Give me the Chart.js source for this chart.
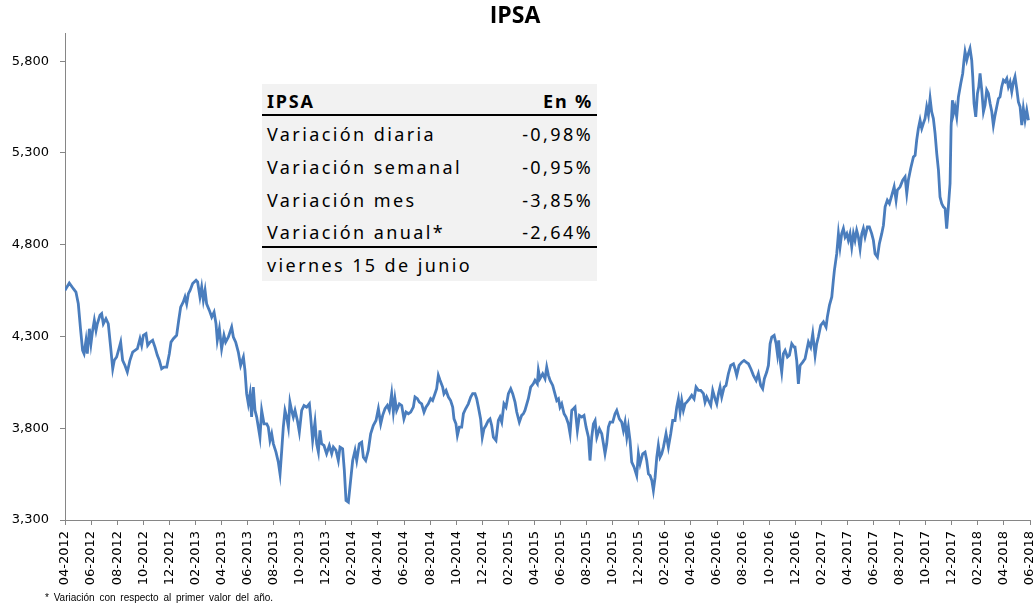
<!DOCTYPE html>
<html>
<head>
<meta charset="utf-8">
<script src="https://cdn.jsdelivr.net/npm/chart.js@4.4.1/dist/chart.umd.min.js"></script>
<style>
html,body{margin:0;padding:0;background:#fff;}
#wrap{position:relative;width:1035px;height:608px;overflow:hidden;background:#fff;}
#c{position:absolute;left:0;top:0;}
#tbl{position:absolute;left:262px;top:84px;width:335px;height:197px;background:#f2f2f2;font-family:'Noto Sans',sans-serif;font-size:18px;color:#000;}
.row{position:absolute;left:5px;right:4px;height:20px;line-height:20px;white-space:nowrap;}
.row span{position:absolute;top:0;letter-spacing:2.4px;}
.row .l{left:0;}
.row .r{right:0;}
.hdr span{font-weight:bold;letter-spacing:1.8px;}
.rule{position:absolute;left:0;right:0;height:2px;background:#000;}
#note{position:absolute;left:45px;top:592px;height:12px;line-height:12px;font-family:'Liberation Sans',Arial,sans-serif;font-size:10px;color:#000;word-spacing:2px;white-space:nowrap;}
</style>
</head>
<body>
<div id="wrap">
<canvas id="c" width="1035" height="608"></canvas>
<div id="tbl"></div>
<div id="note"></div>
</div>
<script>
// ---- Data ----
// position of each sample in months since April 2012
const monthPos = [
0.00,0.33,0.64,0.84,1.02,1.20,1.35,1.46,1.61,1.71,1.87,1.99,2.12,2.25,2.38,2.48,2.68,2.81,2.94,3.14,
3.32,3.50,3.66,3.78,3.96,4.17,4.27,4.42,4.60,4.78,4.98,5.19,5.37,5.55,5.75,5.88,6.01,6.21,6.34,6.52,
6.72,6.90,7.08,7.23,7.41,7.59,7.80,8.00,8.13,8.31,8.56,8.72,8.87,9.07,9.20,9.33,9.46,9.59,9.79,10.05,
10.17,10.35,10.48,10.61,10.74,10.86,11.07,11.25,11.43,11.58,11.68,11.84,12.01,12.19,12.32,12.53,12.78,12.91,13.09,13.29,
13.47,13.68,13.80,13.93,14.06,14.19,14.31,14.44,14.57,14.70,14.95,15.08,15.26,15.47,15.59,15.72,15.85,15.98,16.18,16.36,
16.49,16.62,16.74,16.87,17.00,17.13,17.25,17.38,17.51,17.64,17.82,17.97,18.15,18.33,18.53,18.74,
18.84,18.99,19.17,19.30,19.43,19.55,19.68,19.86,20.06,20.27,20.45,20.58,20.78,20.96,21.09,21.29,21.42,21.55,21.73,21.85,
22.06,22.24,22.37,22.57,22.75,22.88,23.06,23.26,23.44,23.64,23.85,24.03,24.21,24.36,24.54,24.72,24.87,25.05,25.18,25.30,
25.43,25.64,25.82,25.99,26.15,26.33,26.51,26.71,26.84,27.02,27.17,27.35,27.53,27.68,27.86,28.04,28.19,28.37,28.50,28.63,
28.76,28.96,29.06,29.22,29.40,29.57,29.73,29.83,29.98,30.09,30.24,30.42,30.55,30.72,30.93,31.11,31.26,31.44,31.57,31.70,
31.87,32.00,32.13,32.28,32.46,32.59,32.72,32.85,33.05,33.23,33.36,33.49,33.66,33.82,34.00,34.18,34.33,34.51,34.64,34.84,
35.02,35.15,35.27,35.53,35.71,35.91,36.04,36.22,36.30,36.42,36.63,36.81,36.94,
37.07,37.20,37.40,37.50,37.71,37.84,37.96,38.09,38.27,38.42,38.60,38.73,38.86,38.99,39.11,39.29,39.45,39.63,39.80,39.96,
40.14,40.26,40.39,40.52,40.65,40.78,40.98,41.16,41.29,41.41,41.54,41.67,41.80,42.00,42.18,42.31,42.51,42.69,42.82,42.95,
43.08,43.20,43.33,43.46,43.64,43.84,43.97,44.10,44.30,44.48,44.61,44.74,44.87,45.00,45.12,45.25,45.38,45.50,45.63,45.76,
45.89,46.09,46.27,46.45,46.60,46.78,46.91,47.04,47.17,47.29,47.42,47.55,47.68,47.88,48.06,48.24,48.39,48.57,48.75,48.96,
49.08,49.21,49.34,49.52,49.67,49.85,49.98,50.11,50.23,50.36,50.54,50.69,50.87,51.05,51.26,51.38,51.51,51.69,51.90,52.07,
52.23,52.41,52.59,52.79,53.00,53.17,53.35,53.50,53.63,53.81,53.94,54.07,54.20,54.38,54.53,54.63,54.73,54.84,54.96,55.09,
55.22,55.40,55.55,55.73,55.91,
55.98,56.11,56.24,56.37,56.57,56.75,56.88,57.01,57.18,57.34,57.52,57.64,57.77,57.95,58.16,58.36,58.46,58.62,58.80,58.92,
59.00,59.18,59.31,59.43,59.56,59.69,59.82,59.95,60.07,60.20,60.33,60.46,60.58,60.71,60.84,60.97,61.10,61.22,61.35,61.53,
61.68,61.86,61.99,62.12,62.30,62.45,62.63,62.76,62.89,63.06,63.22,63.40,63.58,63.73,63.83,64.04,64.24,64.42,64.55,64.67,
64.85,65.06,65.19,65.31,65.44,65.57,65.70,65.82,65.95,66.08,66.21,66.34,66.46,66.59,66.72,66.85,66.98,67.10,67.23,67.36,
67.49,67.61,67.74,67.87,67.95,68.05,68.13,68.25,68.38,68.51,68.69,68.84,68.94,69.02,69.15,69.28,69.40,69.53,69.61,69.71,
69.84,69.97,70.07,70.17,70.30,70.43,70.55,70.68,70.81,70.94,71.07,71.19,71.32,71.45,71.58,71.70,71.83,71.96,72.09,72.22,
72.34,72.47,72.60,72.73,72.85,72.98,73.11,73.24,73.37,73.49,73.62,73.75,73.88
];
// IPSA index values
const ipsa = [
4551,4591,4560,4542,4478,4333,4224,4206,4279,4206,4342,4260,4333,4388,4333,4369,4415,4424,4369,4397,
4369,4242,4124,4170,4188,4242,4269,4170,4142,4106,4170,4215,4224,4233,4288,4251,4306,4315,4251,4269,
4279,4242,4197,4170,4124,4133,4133,4206,4269,4288,4306,4388,4460,4488,4515,4478,4533,4551,4588,4606,
4597,4515,4569,4497,4551,4478,4442,4406,4433,4369,4279,4342,4233,4306,4269,4297,4351,4297,4269,4215,
4142,4188,4115,3988,3933,3988,3861,4024,3897,3861,3751,3897,3824,3824,3806,3733,3770,3715,3670,3615,
3551,3679,3806,3897,3861,3806,3942,3897,3861,3897,3842,3779,3897,3924,3915,3933,
3861,3733,3833,3715,3670,3788,3715,3706,3661,3706,3661,3697,3679,3624,3697,3688,3570,3406,3397,3479,
3624,3679,3624,3715,3724,3642,3624,3679,3770,3815,3842,3906,3824,3870,3906,3924,3897,3988,3888,3961,
3897,3933,3924,3851,3888,3879,3888,3915,3970,3961,3942,3933,3888,3915,3933,3961,3951,3988,4015,4088,
4061,4024,3988,4006,3970,3951,3915,3851,3824,3761,3806,3806,3879,3906,3933,3970,3988,3988,3961,3915,
3851,3751,3797,3815,3842,3851,3815,3751,3733,3842,3861,3833,3933,3915,3988,4015,3988,3942,3888,3833,
3870,3879,3897,3961,4024,4042,4061,4042,4115,4070,4097,4070,4133,
4088,4060,4033,4006,3951,3960,3915,3933,3879,3861,3824,3770,3897,3906,3915,3788,3870,3861,3870,3806,
3751,3624,3751,3824,3842,3751,3797,3770,3715,3661,3715,3806,3833,3833,3879,3897,3851,3833,3788,3833,
3751,3806,3733,3615,3588,3542,3661,3606,3661,3670,3624,3551,3542,3515,3461,3533,3642,3706,3642,3661,
3697,3770,3697,3770,3842,3842,3915,3960,3888,3951,3897,3933,3942,3960,3979,3960,4024,4006,4006,3988,
3942,3970,3951,3924,4006,3960,3933,3988,4024,3970,4024,4033,4097,4142,4151,4124,4088,4142,4160,4169,
4160,4151,4124,4088,4060,4097,4033,4015,4070,4106,4142,4260,4297,4306,4260,4206,4279,4169,4106,4206,
4224,4188,4197,4260,4242,
4242,4169,4042,4142,4160,4179,4224,4269,4242,4315,4197,4260,4297,4360,4379,4351,4406,4469,4515,4606,
4660,4751,4860,4787,4860,4888,4842,4860,4824,4860,4787,4860,4824,4878,4842,4778,4860,4888,4842,4897,
4897,4860,4824,4751,4733,4806,4860,4906,5006,5042,5024,5069,5115,5042,5097,5115,5151,5169,5078,5151,
5215,5278,5287,5369,5433,5478,5433,5460,5487,5551,5506,5596,5524,5487,5406,5296,5206,5060,5024,5006,
4997,4888,5006,5133,5442,5587,5515,5551,5496,5605,5678,5733,5805,5851,5805,5842,5869,5805,5715,5569,
5496,5624,5660,5733,5642,5524,5560,5642,5624,5569,5524,5451,5506,5551,5596,5605,5660,5696,5687,5705,
5660,5687,5633,5687,5715,5651,5578,5551,5451,5542,5478,5533,5478
];
const tickMonths = [0,2,4,6,8,10,12,14,16,18,20,22,24,26,28,30,32,34,36,38,40,42,44,46,48,50,52,54,56,58,60,62,64,66,68,70,72,74];
const tickLabels = ['04-2012','06-2012','08-2012','10-2012','12-2012','02-2013','04-2013','06-2013','08-2013','10-2013','12-2013',
  '02-2014','04-2014','06-2014','08-2014','10-2014','12-2014','02-2015','04-2015','06-2015','08-2015','10-2015','12-2015',
  '02-2016','04-2016','06-2016','08-2016','10-2016','12-2016','02-2017','04-2017','06-2017','08-2017','10-2017','12-2017',
  '02-2018','04-2018','06-2018'];
const yTicks = [3300,3800,4300,4800,5300,5800];
const tableHeader = ['IPSA','En %'];
const tableLabels = ['Variación diaria','Variación semanal','Variación mes','Variación anual*'];
const tableValues = ['-0,98%','-0,95%','-3,85%','-2,64%'];
const tableDate = 'viernes 15 de junio';
const footnote = '* Variación con respecto al primer valor del año.';

// ---- Table overlay ----
const tbl = document.getElementById('tbl');
const rowTops = [6.5, 40.0, 73.0, 105.7, 138.3, 171.3];
function addRow(top, left, right, cls) {
  const r = document.createElement('div');
  r.className = 'row' + (cls ? ' ' + cls : '');
  r.style.top = top + 'px';
  const l = document.createElement('span'); l.className = 'l'; l.textContent = left; r.appendChild(l);
  if (right) { const s = document.createElement('span'); s.className = 'r'; s.textContent = right; r.appendChild(s); }
  tbl.appendChild(r);
}
addRow(rowTops[0], tableHeader[0], tableHeader[1], 'hdr');
tableLabels.forEach((t, i) => addRow(rowTops[i + 1], t, tableValues[i]));
addRow(rowTops[5], tableDate, null);
[30, 161.7].forEach(t => { const d = document.createElement('div'); d.className = 'rule'; d.style.top = t + 'px'; tbl.appendChild(d); });
document.getElementById('note').textContent = footnote;

// ---- Chart ----
const axisGray = '#868686';
new Chart(document.getElementById('c').getContext('2d'), {
  type: 'line',
  data: {
    datasets: [{
      data: ipsa.map((v, i) => ({ x: monthPos[i], y: v })),
      borderColor: '#4a7dbd',
      borderWidth: 2.8,
      pointRadius: 0,
      tension: 0,
      fill: false
    }]
  },
  options: {
    responsive: false,
    animation: false,
    devicePixelRatio: 1,
    layout: { padding: { left: 0, right: 5, top: 0, bottom: 0 } },
    plugins: {
      legend: { display: false },
      tooltip: { enabled: false },
      title: {
        display: true, text: 'IPSA', color: '#000',
        font: { family: 'Open Sans', size: 23, weight: 'bold', lineHeight: 1.2 },
        padding: { top: 3, bottom: 3 }
      }
    },
    scales: {
      x: {
        type: 'linear', min: 0, max: 74,
        afterBuildTicks: s => { s.ticks = tickMonths.map(v => ({ value: v })); },
        afterFit: s => { s.height = 88; s.paddingLeft = 0; s.paddingRight = 0; },
        ticks: {
          autoSkip: false, maxRotation: 90, minRotation: 90, padding: 6, color: '#000',
          font: { family: 'DejaVu Sans', size: 13 },
          callback: (v, i) => tickLabels[i]
        },
        grid: { drawOnChartArea: false, tickLength: 5, color: axisGray },
        border: { color: axisGray, width: 1 }
      },
      y: {
        min: 3300, max: 5950,
        afterBuildTicks: s => { s.ticks = yTicks.map(v => ({ value: v })); },
        afterFit: s => { s.width = 65; },
        ticks: {
          padding: 11, color: '#000',
          font: { family: 'DejaVu Sans', size: 13 },
          callback: v => v.toLocaleString('en-US')
        },
        grid: { drawOnChartArea: false, tickLength: 5, color: axisGray },
        border: { color: axisGray, width: 1 }
      }
    }
  }
});
</script>
</body>
</html>
